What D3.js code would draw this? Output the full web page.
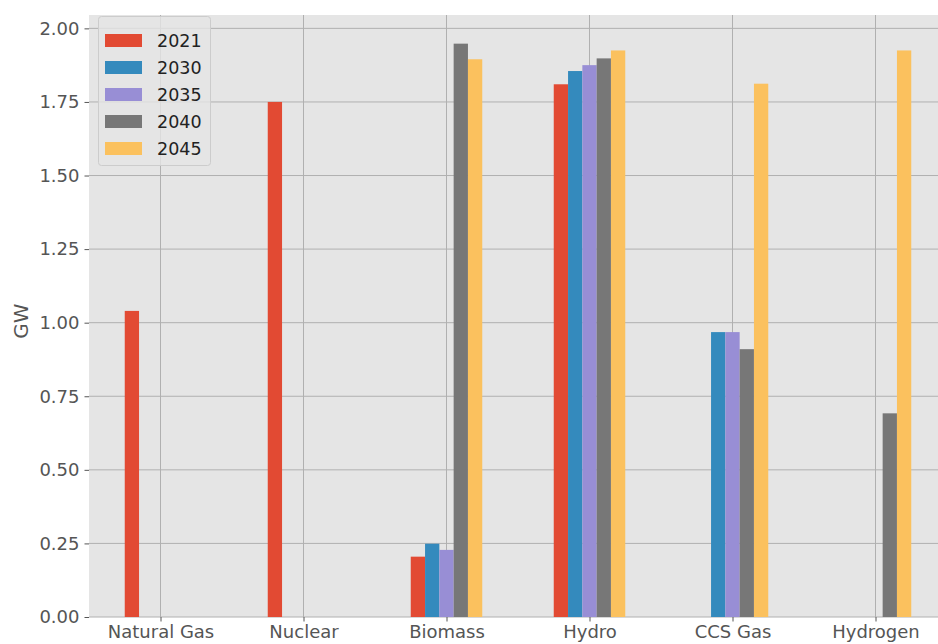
<!DOCTYPE html>
<html><head><meta charset="utf-8">
<script src="https://cdn.jsdelivr.net/npm/d3@7"></script>
<style>body{margin:0;background:#fff;}svg{display:block;font-family:"DejaVu Sans",sans-serif;}</style>
</head><body>
<svg id="c" width="938" height="644"></svg>
<script>
const categories = ["Natural Gas","Nuclear","Biomass","Hydro","CCS Gas","Hydrogen"];
const years = ["2021","2030","2035","2040","2045"];
const v2021 = [1.04, 1.75, 0.205, 1.81, 0, 0];
const v2030 = [0, 0, 0.249, 1.855, 0.968, 0];
const v2035 = [0, 0, 0.228, 1.875, 0.968, 0];
const v2040 = [0, 0, 1.948, 1.898, 0.91, 0.692];
const v2045 = [0, 0, 1.895, 1.925, 1.812, 1.925];
const yTicks = [0, 0.25, 0.5, 0.75, 1.0, 1.25, 1.5, 1.75, 2.0];
const colors = ["#E24A33","#348ABD","#988ED5","#777777","#FBC15E"];
const series = [v2021, v2030, v2035, v2040, v2045];

const svg = d3.select("#c");
const L = 89, R = 947, T = 15, B = 617;
const x = d3.scaleLinear().domain([-0.5, categories.length - 0.5]).range([L, R]);
const yMax = d3.max(series.flat()) * 1.05;
const y = d3.scaleLinear().domain([0, yMax]).range([B, T]);

svg.append("rect").attr("x", L).attr("y", T).attr("width", R - L).attr("height", B - T).attr("fill", "#E5E5E5");

// grid
const g = svg.append("g");
g.selectAll(".hg").data(yTicks).join("line")
  .attr("x1", L).attr("x2", R).attr("y1", d => y(d)).attr("y2", d => y(d))
  .attr("stroke", "#b0b0b0").attr("stroke-width", 1);
g.selectAll(".vg").data(categories).join("line")
  .attr("x1", (d,i) => x(i)).attr("x2", (d,i) => x(i)).attr("y1", T).attr("y2", B)
  .attr("stroke", "#b0b0b0").attr("stroke-width", 1);

// bars
const bw = 0.5 / years.length;
series.forEach((s, si) => {
  svg.append("g").selectAll("rect").data(s).join("rect")
    .attr("x", (d,i) => x(i - 0.25 + si * bw))
    .attr("width", x(bw) - x(0))
    .attr("y", d => y(d))
    .attr("height", d => y(0) - y(d))
    .attr("fill", colors[si]);
});

// y axis
const ya = svg.append("g").attr("transform", `translate(${L},0)`)
  .call(d3.axisLeft(y).tickValues(yTicks).tickFormat(d3.format(".2f")).tickSize(4.5).tickPadding(5));
ya.select(".domain").remove();
ya.selectAll("line").attr("stroke", "#555");
ya.selectAll("text").attr("fill", "#555").attr("font-size", 18).attr("font-family", "DejaVu Sans");

// x axis
const xa = svg.append("g").attr("transform", `translate(0,${B})`)
  .call(d3.axisBottom(x).tickValues(d3.range(categories.length)).tickFormat(i => categories[i]).tickSize(4.5).tickPadding(4));
xa.select(".domain").remove();
xa.selectAll("line").attr("stroke", "#555");
xa.selectAll("text").attr("fill", "#555").attr("font-size", 18).attr("font-family", "DejaVu Sans");

svg.append("text").attr("transform", `translate(28,${(T+B)/2 + 5}) rotate(-90)`)
  .attr("text-anchor", "middle").attr("fill", "#555").attr("font-size", 20).text("GW");

// legend
const lg = svg.append("g");
lg.append("rect").attr("x", 98.5).attr("y", 16.5).attr("width", 112).attr("height", 149).attr("rx", 3)
  .attr("fill", "#E5E5E5").attr("fill-opacity", 0.8).attr("stroke", "#cccccc");
years.forEach((yr, i) => {
  const cy = 40 + i * 27;
  lg.append("rect").attr("x", 105).attr("y", cy - 6).attr("width", 37).attr("height", 13).attr("fill", colors[i]);
  lg.append("text").attr("x", 157).attr("y", cy + 6.5).attr("font-size", 17.5).attr("fill", "#222").text(yr);
});
</script>
</body></html>
